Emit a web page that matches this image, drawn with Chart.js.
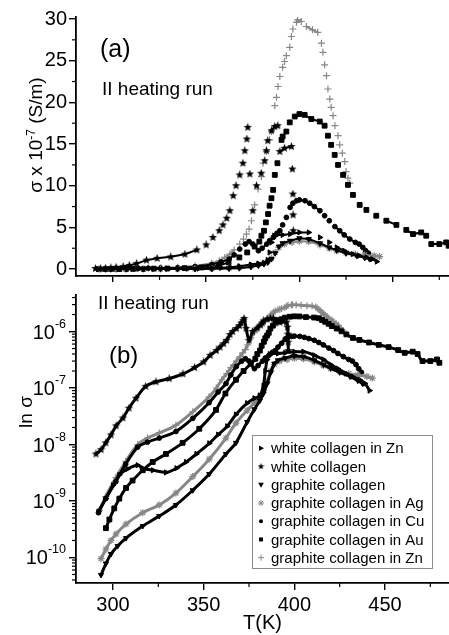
<!DOCTYPE html>
<html>
<head>
<meta charset="utf-8">
<title>conductivity vs temperature</title>
<script src="https://cdn.jsdelivr.net/npm/chart.js@4.4.1/dist/chart.umd.min.js"></script>
<style>
  body { margin: 0; background: #fff; }
  #box { position: relative; width: 449px; height: 635px; }
  #box canvas { position: absolute; left: 0; }
</style>
</head>
<body>
<div id="box">
  <canvas id="top" width="449" height="290" style="top:0"></canvas>
  <canvas id="bottom" width="449" height="350" style="top:285px"></canvas>
</div>
<script>
// sigma values in units of 1e-7 S/m, temperatures in K
const T_wcZn = [292, 296, 300, 303.5, 308, 313.6, 316.4, 322, 329.2, 335, 340.3, 346, 353.1, 358, 363, 367.8, 374, 378, 381, 383, 384, 385, 386.5, 388, 391, 395, 400, 405, 411, 416, 420, 424, 428.6, 432, 436, 439, 441.5]
const S_wcZn = [0.0065, 0.011, 0.019, 0.029, 0.037, 0.043, 0.038, 0.035, 0.032, 0.038, 0.049, 0.068, 0.105, 0.15, 0.21, 0.34, 0.54, 0.66, 0.74, 1.1, 2.0, 3.2, 4.0, 4.1, 4.1, 4.2, 4.4, 4.4, 3.8, 3.2, 2.6, 2.2, 1.8, 1.6, 1.4, 1.2, 0.9]

const T_wc = [290.6, 293.4, 296, 298.9, 301.7, 305.5, 308.8, 312.7, 318, 323.7, 331, 338.6, 345, 350, 353.6, 357, 359, 361, 362.7, 364.5, 366, 368, 369.7, 370.7, 371.8, 372.3, 373.4, 375, 377, 379.5, 381.4, 382.3, 383, 385, 386.8, 388.4, 389.5, 392, 395.7, 396.2, 396.5, 396.6, 396.7]
const S_wc = [0.068, 0.081, 0.107, 0.148, 0.214, 0.295, 0.44, 0.66, 1.07, 1.29, 1.47, 1.78, 2.3, 2.9, 3.8, 4.6, 5.3, 6.1, 7.0, 8.8, 10.0, 11.3, 12.7, 14.2, 15.6, 17.0, 11.4, 7.0, 10.0, 11.5, 13.0, 14.2, 15.4, 16.6, 17.1, 17.2, 14.1, 14.5, 14.7, 12.0, 9.0, 6.5, 4.6]

const T_gc = [293.4, 296.1, 298.9, 302.6, 307.2, 316.4, 325.5, 334.7, 344, 353.1, 362.3, 367.8, 374, 378, 381, 383, 385, 387, 389, 391, 395, 400, 405, 411, 416, 420, 425, 430.7, 435, 437.6]
const S_gc = [0.00049, 0.00078, 0.00115, 0.0016, 0.0022, 0.0036, 0.0054, 0.0085, 0.0155, 0.03, 0.068, 0.107, 0.25, 0.42, 0.6, 0.8, 1.2, 1.9, 2.7, 3.1, 3.4, 3.7, 3.6, 3.1, 2.6, 2.25, 1.9, 1.6, 1.35, 1.2]

const T_ag = [293.4, 296.1, 298.9, 301.7, 307.2, 316.4, 325.5, 334.7, 344, 353.1, 362.3, 367.8, 374, 378, 381, 383, 385, 387, 389, 392, 396, 400, 405, 411, 416, 420, 425, 430, 435, 440, 443]
const S_ag = [0.00095, 0.0014, 0.002, 0.0026, 0.0039, 0.0062, 0.0085, 0.0138, 0.027, 0.055, 0.13, 0.24, 0.4, 0.55, 0.7, 0.9, 1.3, 2.0, 2.6, 3.0, 3.2, 3.35, 3.3, 2.9, 2.5, 2.2, 1.95, 1.8, 1.7, 1.6, 1.5]

const T_cu = [292, 296, 301.6, 307, 313.6, 319, 325.5, 334.7, 344, 353, 358, 362.3, 365, 368, 371, 373, 375, 378, 380, 382.5, 384, 386, 388, 389.5, 391, 393, 395, 396.5, 398.5, 400, 403, 405.5, 408, 411, 413.5, 416, 419, 421.6, 424, 427, 430, 432, 434, 435.5, 437]
const S_cu = [0.0062, 0.011, 0.022, 0.045, 0.09, 0.11, 0.13, 0.17, 0.29, 0.55, 0.85, 1.2, 1.7, 2.4, 3.0, 3.3, 3.0, 2.2, 2.5, 3.0, 3.4, 3.8, 4.3, 4.6, 5.3, 6.2, 7.4, 7.9, 8.2, 8.3, 8.2, 7.9, 7.5, 7.0, 6.4, 5.8, 5.1, 4.6, 4.1, 3.6, 3.2, 3.0, 2.6, 2.2, 1.9]

const T_au = [296.1, 298, 300.7, 303.5, 307.2, 310.8, 316.4, 321.9, 329.2, 338.4, 347.6, 356.8, 362, 367.8, 372, 376, 378.5, 379.6, 381, 382, 383.2, 384, 385, 385.9, 386.8, 388.2, 390.4, 391, 393, 394.8, 397.5, 400, 402.8, 406.4, 410.9, 413.5, 415.3, 417, 418.9, 420.7, 423.4, 426, 428.7, 432.3, 435.9, 441.2, 446.6, 452, 457.3, 460.9, 465.3, 468, 470.7, 475, 478.7, 480]
const S_au = [0.0033, 0.0047, 0.0074, 0.011, 0.017, 0.023, 0.035, 0.049, 0.068, 0.107, 0.19, 0.41, 0.8, 1.4, 2.0, 2.7, 3.3, 4.0, 4.6, 5.6, 6.6, 7.6, 8.5, 9.5, 11.3, 12.7, 15.5, 15.9, 16.5, 17.6, 18.3, 18.6, 18.5, 18.0, 17.7, 17.2, 16.0, 14.9, 13.7, 12.5, 11.3, 10.1, 8.9, 7.7, 7.1, 6.4, 5.8, 5.3, 4.7, 4.2, 4.4, 4.0, 3.0, 3.0, 3.2, 2.8]

const T_zn = [292.5, 296, 301.6, 307, 313.6, 319, 325.5, 334.7, 344, 353, 357, 360, 362.7, 365, 368, 370, 371.6, 373, 374.3, 376, 377.8, 379.6, 380.5, 382.3, 384, 385, 386.8, 387.7, 388.5, 389.5, 391, 392, 393, 394.8, 395.7, 396.5, 398.4, 399, 401, 403.7, 407, 409.8, 411.8, 412.6, 413.5, 414.5, 415.3, 416.3, 417, 418, 419, 420.7, 421.6, 423, 424.3, 425, 426, 427]
const S_zn = [0.0068, 0.012, 0.026, 0.05, 0.1, 0.13, 0.16, 0.22, 0.38, 0.7, 1.0, 1.4, 1.8, 2.3, 3.0, 3.6, 4.2, 4.8, 5.8, 7.7, 9.6, 11.1, 12.7, 14.1, 15.5, 16.5, 19.6, 20.6, 21.9, 23.1, 24.2, 24.9, 25.6, 26.6, 27.9, 28.8, 29.6, 29.9, 29.7, 29.1, 28.7, 28.4, 27.1, 26.0, 24.5, 23.2, 21.6, 20.4, 19.4, 18.4, 17.2, 16.0, 14.9, 13.9, 12.9, 11.7, 10.9, 10.3]

// axis ticks
const xTicks = [300, 350, 400, 450]
const xMinor = [325, 375, 425, 475]
const yTicksTop = [0, 5, 10, 15, 20, 25, 30]
const yMinorTop = [2.5, 7.5, 12.5, 17.5, 22.5, 27.5]
const logExps = [-10, -9, -8, -7, -6]

const FONT = '"Liberation Sans", Arial, sans-serif'
const font = s => s + 'px ' + FONT
Chart.defaults.font.family = FONT
Chart.defaults.color = '#000'

function makeStar(size, r1, r2) {
    const c = document.createElement('canvas')
    c.width = c.height = size
    const g = c.getContext('2d')
    g.fillStyle = '#000'
    g.beginPath()
    for (let i = 0; i < 10; i++) {
        const r = i % 2 ? r2 : r1
        const a = -Math.PI / 2 + i * Math.PI / 5
        g.lineTo(size / 2 + r * Math.cos(a), size / 2 + r * Math.sin(a))
    }
    g.closePath()
    g.fill()
    return c
}
const star9 = makeStar(9, 4.4, 1.9)
const star7 = makeStar(7, 3.4, 1.5)

const GRAY = '#878787'
const series = [
    {label: 'white collagen in Zn', T: T_wcZn, S: S_wcZn, style: 'triangle', rot: 90, color: '#000', r: 3, bw: 1},
    {label: 'white collagen', T: T_wc, S: S_wc, style: star9, rot: 0, color: '#000', r: 3, bw: 1},
    {label: 'graphite collagen', T: T_gc, S: S_gc, style: 'triangle', rot: 180, color: '#000', r: 3, bw: 1},
    {label: 'graphite collagen in Ag', T: T_ag, S: S_ag, style: 'star', rot: 0, color: GRAY, r: 3.5, bw: 1.2},
    {label: 'graphite collagen in Cu', T: T_cu, S: S_cu, style: 'circle', rot: 0, color: '#000', r: 2.4, bw: 1},
    {label: 'graphite collagen in Au', T: T_au, S: S_au, style: 'rect', rot: 0, color: '#000', r: 3.4, bw: 1},
    {label: 'graphite collagen in Zn', T: T_zn, S: S_zn, style: 'cross', rot: 0, color: GRAY, r: 3.5, bw: 1.2}
]

function makeDatasets(k, lw, top) {
    return series.map(s => ({
        label: s.label,
        data: s.T.map((t, i) => ({x: t, y: s.S[i] * k})),
        showLine: true,
        cubicInterpolationMode: top ? 'default' : 'monotone',
        borderColor: s.color,
        borderWidth: lw,
        pointStyle: s.style,
        pointRotation: s.rot,
        pointRadius: s.r,
        pointBackgroundColor: s.color,
        pointBorderColor: s.color,
        pointBorderWidth: s.bw,
        // in the linear panel steep stretches show as separate markers
        segment: top ? {borderColor: c => Math.abs(c.p1.y - c.p0.y) > 5 ? 'rgba(0,0,0,0)' : undefined} : {}
    }))
}

function axisStyle(len) {
    return {
        grid: {display: true, drawOnChartArea: false, drawTicks: true, tickLength: len, color: '#000', lineWidth: 1.4},
        border: {display: true, color: '#000', width: 1.8}
    }
}

function minorTicks(ctx, s, vals, len) {
    ctx.save()
    ctx.strokeStyle = '#000'
    ctx.lineWidth = 1.2
    vals.forEach(v => {
        const p = s.getPixelForValue(v)
        ctx.beginPath()
        if (s.isHorizontal()) { ctx.moveTo(p, s.top); ctx.lineTo(p, s.top + len) }
        else { ctx.moveTo(s.right, p); ctx.lineTo(s.right - len, p) }
        ctx.stroke()
    })
    ctx.restore()
}

function rotatedTitle(ctx, x, y, parts) {
    ctx.save()
    ctx.translate(x, y)
    ctx.rotate(-Math.PI / 2)
    ctx.fillStyle = '#000'
    ctx.textAlign = 'left'
    ctx.textBaseline = 'alphabetic'
    let w = 0
    parts.forEach(p => { ctx.font = font(p[1]); w += ctx.measureText(p[0]).width })
    let cx = -w / 2
    parts.forEach(p => {
        ctx.font = font(p[1])
        ctx.fillText(p[0], cx, p[2])
        cx += ctx.measureText(p[0]).width
    })
    ctx.restore()
}

function legendMarker(ctx, s, x, y) {
    ctx.save()
    ctx.translate(x, y)
    ctx.fillStyle = s.color
    ctx.strokeStyle = s.color
    ctx.lineWidth = 1
    if (s.style === 'triangle') {
        ctx.rotate(s.rot * Math.PI / 180)
        ctx.beginPath()
        ctx.moveTo(0, -3); ctx.lineTo(2.8, 2); ctx.lineTo(-2.8, 2)
        ctx.closePath()
        ctx.fill()
    } else if (s.style === 'circle') {
        ctx.beginPath(); ctx.arc(0, 0, 2, 0, Math.PI * 2); ctx.fill()
    } else if (s.style === 'rect') {
        ctx.fillRect(-2, -2, 4, 4)
    } else if (s.style === 'cross' || s.style === 'star') {
        ctx.beginPath()
        ctx.moveTo(-3, 0); ctx.lineTo(3, 0); ctx.moveTo(0, -3); ctx.lineTo(0, 3)
        if (s.style === 'star') {
            ctx.moveTo(-2.1, -2.1); ctx.lineTo(2.1, 2.1); ctx.moveTo(-2.1, 2.1); ctx.lineTo(2.1, -2.1)
        }
        ctx.stroke()
    } else {
        ctx.drawImage(star7, -3.5, -3.5)
    }
    ctx.restore()
}

const topDecor = {
    id: 'topDecor',
    afterDraw(chart) {
        const ctx = chart.ctx
        minorTicks(ctx, chart.scales.x, xMinor, 4)
        minorTicks(ctx, chart.scales.y, yMinorTop, 4)
        ctx.save()
        ctx.fillStyle = '#000'
        ctx.textAlign = 'left'
        ctx.textBaseline = 'alphabetic'
        ctx.font = font(25)
        ctx.fillText('(a)', 100, 56.5)
        ctx.font = font(19)
        ctx.fillText('II heating run', 102, 95)
        ctx.restore()
        rotatedTitle(ctx, 42, 135, [['σ x 10', 19, 0], ['-7', 12, -7.5], [' (S/m)', 19, 0]])
    }
}

const logMinor = []
for (let e = -11; e <= -6; e++) {
    for (let m = 2; m <= 9; m++) logMinor.push(m * Math.pow(10, e))
}

const bottomDecor = {
    id: 'bottomDecor',
    afterDraw(chart) {
        const ctx = chart.ctx
        const ys = chart.scales.y
        minorTicks(ctx, chart.scales.x, xMinor, 4)
        minorTicks(ctx, ys, logMinor.filter(v => v >= ys.min && v <= ys.max), 4)
        ctx.save()
        ctx.fillStyle = '#000'
        ctx.textAlign = 'right'
        ctx.textBaseline = 'alphabetic'
        logExps.forEach(e => {
            const py = ys.getPixelForValue(Math.pow(10, e))
            const sup = '-' + Math.abs(e)
            ctx.font = font(12.5)
            const sw = ctx.measureText(sup).width
            ctx.fillText(sup, 66, py - 4)
            ctx.font = font(20)
            ctx.fillText('10', 66 - sw, py + 7)
        })
        // page coordinates from here on
        ctx.translate(0, -285)
        ctx.textAlign = 'left'
        ctx.font = font(24)
        ctx.fillText('(b)', 109, 363)
        ctx.font = font(19)
        ctx.fillText('II heating run', 98, 308.5)
        rotatedTitle(ctx, 32, 412, [['ln σ', 19, 0]])

        ctx.fillStyle = '#fff'
        ctx.fillRect(252.5, 435.5, 180, 133)
        ctx.strokeStyle = '#8c8c8c'
        ctx.lineWidth = 1
        ctx.strokeRect(252.5, 435.5, 180, 133)
        series.forEach((s, i) => {
            const ly = 448.3 + i * 18.23
            legendMarker(ctx, s, 261, ly)
            ctx.fillStyle = '#000'
            ctx.font = font(15)
            ctx.textBaseline = 'middle'
            ctx.fillText(s.label, 271, ly + 1)
        })
        ctx.restore()
    }
}

new Chart(document.getElementById('top'), {
    type: 'scatter',
    data: {datasets: makeDatasets(1, 2, true)},
    options: {
        responsive: false,
        animation: false,
        layout: {padding: {top: 17, right: 0, bottom: 0, left: 0}, autoPadding: false},
        plugins: {legend: {display: false}, tooltip: {enabled: false}},
        scales: {
            x: Object.assign({
                type: 'linear', min: 280.2, max: 480.2,
                afterBuildTicks: s => { s.ticks = xTicks.map(v => ({value: v})) },
                afterFit: s => { s.height = 11 },
                ticks: {callback: () => ''}
            }, axisStyle(6)),
            y: Object.assign({
                type: 'linear', min: -0.83, max: 30.24,
                afterBuildTicks: s => { s.ticks = yTicksTop.map(v => ({value: v})) },
                afterFit: s => { s.width = 76 },
                ticks: {font: {size: 20}, color: '#000', padding: 2}
            }, axisStyle(7))
        }
    },
    plugins: [topDecor]
})

new Chart(document.getElementById('bottom'), {
    type: 'scatter',
    data: {datasets: makeDatasets(1e-7, 3, false)},
    options: {
        responsive: false,
        animation: false,
        layout: {padding: {top: 5, right: 0, bottom: 0, left: 0}, autoPadding: false},
        plugins: {legend: {display: false}, tooltip: {enabled: false}},
        scales: {
            x: Object.assign({
                type: 'linear', min: 279.6, max: 485.3,
                afterBuildTicks: s => { s.ticks = xTicks.map(v => ({value: v})) },
                afterFit: s => { s.height = 52 },
                ticks: {font: {size: 20}, color: '#000', padding: 3},
                title: {display: true, text: 'T(K)', font: {size: 20}, color: '#000', padding: {top: 0, bottom: 0}}
            }, axisStyle(7)),
            y: Object.assign({
                type: 'logarithmic', min: 3.53e-11, max: 4.4e-6,
                afterBuildTicks: s => { s.ticks = logExps.map(e => ({value: Math.pow(10, e)})) },
                afterFit: s => { s.width = 76 },
                ticks: {callback: () => ''}
            }, axisStyle(7))
        }
    },
    plugins: [bottomDecor]
})
</script>
</body>
</html>
